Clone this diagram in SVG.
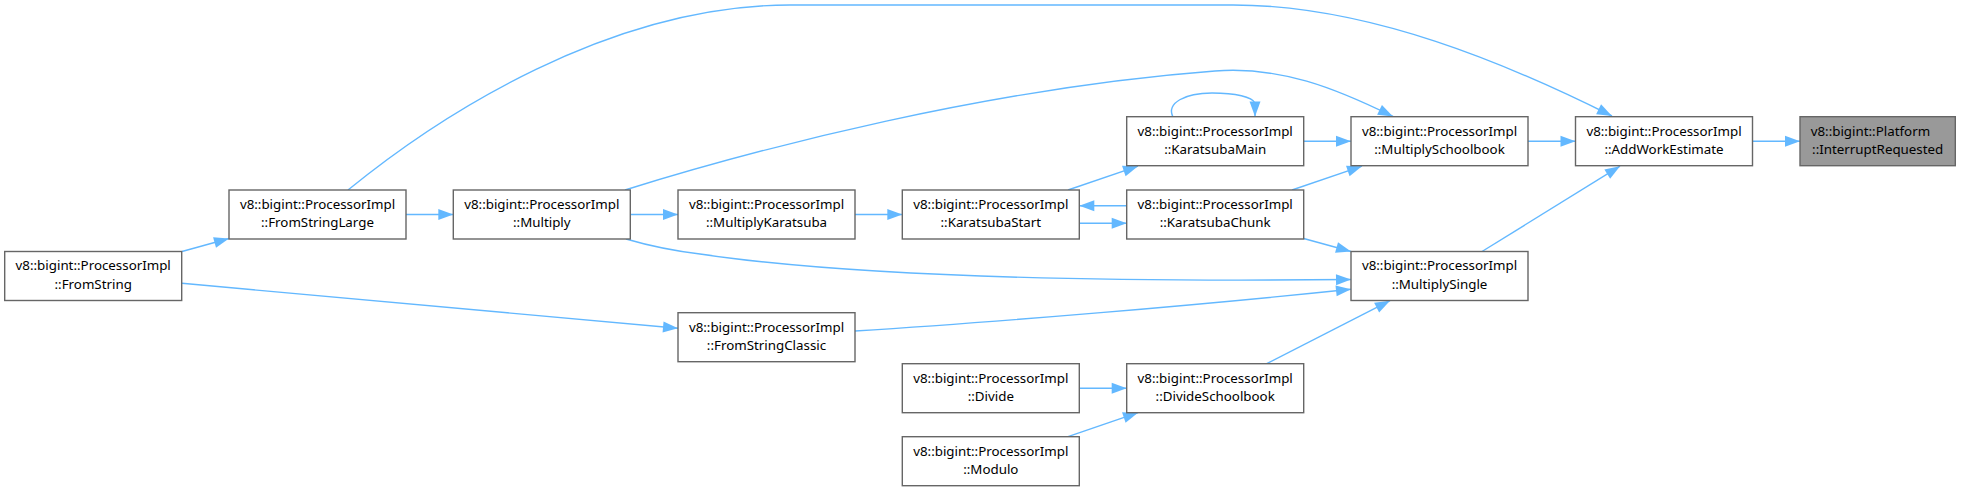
<svg xmlns="http://www.w3.org/2000/svg" width="1961" height="491" viewBox="0 0 1961 491">
<style>
.n rect{fill:#ffffff;stroke:#666666;stroke-width:1.4}
.n.h rect{fill:#999999}
.n text{font-family:"Noto Sans","DejaVu Sans",sans-serif;font-size:13.33px;fill:#000000;text-anchor:middle}
.e path{fill:none;stroke:#63b8ff;stroke-width:1.4;marker-end:url(#ah)}
</style>
<defs>
<marker id="ah" markerUnits="userSpaceOnUse" markerWidth="16" markerHeight="12" refX="15" refY="5.5" orient="auto" overflow="visible">
<path d="M0,0 L15,5.5 L0,11 z" fill="#63b8ff"/>
</marker>
</defs>
<rect x="0" y="0" width="1961" height="491" fill="#ffffff"/>
<g id="edges" class="e">
<path d="M1752.5,141.2 L1800,141.2"/>
<path d="M1528,141.2 L1575.5,141.2"/>
<path d="M1482,251.5 L1620,166.2"/>
<path d="M348,190 C440,115 610,5 790,5 L1233,5 C1370,5 1510,65 1612,116"/>
<path d="M1303.7,141.2 L1351,141.2"/>
<path d="M1292,190 L1362,166.2"/>
<path d="M625,190 C760,148 990,88 1215,71 C1280,66 1335,88 1393,116.5"/>
<path d="M1303.7,238.5 L1351,251.5"/>
<path d="M626,239 C650,246 675,251 700,254 C855,277 1100,282 1351,279.5"/>
<path d="M855,331 C1000,322 1200,305 1351,289.3"/>
<path d="M1266.7,363.7 L1390,300.7"/>
<path d="M1079.3,388.2 L1126.7,388.2"/>
<path d="M1068,436.7 L1138,412.7"/>
<path d="M1068,190 L1138,166.2"/>
<path d="M1079.3,223.3 L1126.7,223.3"/>
<path d="M1126.7,205.7 L1079.3,205.7"/>
<path d="M855,214.5 L902.3,214.5"/>
<path d="M630.3,214.5 L678,214.5"/>
<path d="M406,214.5 L453.3,214.5"/>
<path d="M182,251.5 L229,238.5"/>
<path d="M182,283.3 L678,328.3"/>
<path d="M1173,117 C1166,103 1185,93 1212,93 C1236,93 1252,97 1255,103 L1255,116.5"/>
</g>
<g id="InterruptRequested" class="n h">
<rect x="1800" y="116.7" width="155.3" height="49"/>
<text x="1810.7" y="135.5" style="text-anchor:start">v8::bigint::Platform</text>
<text x="1877.7" y="154">::InterruptRequested</text>
</g>
<g id="AddWorkEstimate" class="n">
<rect x="1575.5" y="116.7" width="177" height="49"/>
<text x="1664" y="135.5">v8::bigint::ProcessorImpl</text>
<text x="1664" y="154">::AddWorkEstimate</text>
</g>
<g id="MultiplySchoolbook" class="n">
<rect x="1351" y="116.7" width="177" height="49"/>
<text x="1439.5" y="135.5">v8::bigint::ProcessorImpl</text>
<text x="1439.5" y="154">::MultiplySchoolbook</text>
</g>
<g id="MultiplySingle" class="n">
<rect x="1351" y="251.5" width="177" height="49"/>
<text x="1439.5" y="270.3">v8::bigint::ProcessorImpl</text>
<text x="1439.5" y="288.8">::MultiplySingle</text>
</g>
<g id="KaratsubaMain" class="n">
<rect x="1126.7" y="116.7" width="177" height="49"/>
<text x="1215.2" y="135.5">v8::bigint::ProcessorImpl</text>
<text x="1215.2" y="154">::KaratsubaMain</text>
</g>
<g id="KaratsubaChunk" class="n">
<rect x="1126.7" y="190" width="177" height="49"/>
<text x="1215.2" y="208.8">v8::bigint::ProcessorImpl</text>
<text x="1215.2" y="227.3">::KaratsubaChunk</text>
</g>
<g id="DivideSchoolbook" class="n">
<rect x="1126.7" y="363.7" width="177" height="49"/>
<text x="1215.2" y="382.5">v8::bigint::ProcessorImpl</text>
<text x="1215.2" y="401">::DivideSchoolbook</text>
</g>
<g id="KaratsubaStart" class="n">
<rect x="902.3" y="190" width="177" height="49"/>
<text x="990.8" y="208.8">v8::bigint::ProcessorImpl</text>
<text x="990.8" y="227.3">::KaratsubaStart</text>
</g>
<g id="Divide" class="n">
<rect x="902.3" y="363.7" width="177" height="49"/>
<text x="990.8" y="382.5">v8::bigint::ProcessorImpl</text>
<text x="990.8" y="401">::Divide</text>
</g>
<g id="Modulo" class="n">
<rect x="902.3" y="436.7" width="177" height="49"/>
<text x="990.8" y="455.5">v8::bigint::ProcessorImpl</text>
<text x="990.8" y="474">::Modulo</text>
</g>
<g id="MultiplyKaratsuba" class="n">
<rect x="678" y="190" width="177" height="49"/>
<text x="766.5" y="208.8">v8::bigint::ProcessorImpl</text>
<text x="766.5" y="227.3">::MultiplyKaratsuba</text>
</g>
<g id="FromStringClassic" class="n">
<rect x="678" y="312.7" width="177" height="49"/>
<text x="766.5" y="331.5">v8::bigint::ProcessorImpl</text>
<text x="766.5" y="350">::FromStringClassic</text>
</g>
<g id="Multiply" class="n">
<rect x="453.3" y="190" width="177" height="49"/>
<text x="541.8" y="208.8">v8::bigint::ProcessorImpl</text>
<text x="541.8" y="227.3">::Multiply</text>
</g>
<g id="FromStringLarge" class="n">
<rect x="229" y="190" width="177" height="49"/>
<text x="317.5" y="208.8">v8::bigint::ProcessorImpl</text>
<text x="317.5" y="227.3">::FromStringLarge</text>
</g>
<g id="FromString" class="n">
<rect x="4.7" y="251.5" width="177" height="49"/>
<text x="93.2" y="270.3">v8::bigint::ProcessorImpl</text>
<text x="93.2" y="288.8">::FromString</text>
</g>
</svg>
